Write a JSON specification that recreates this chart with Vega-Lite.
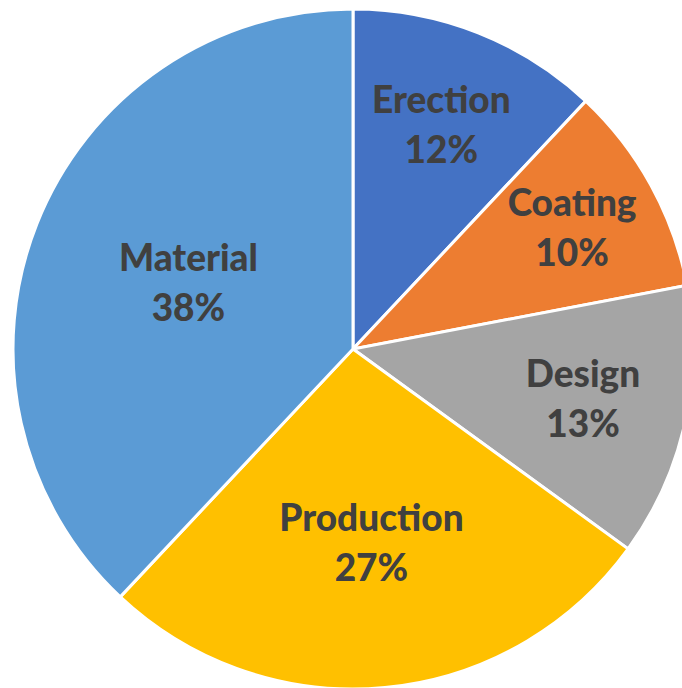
{
  "$schema": "https://vega.github.io/schema/vega-lite/v6.json",
  "width": 706,
  "height": 698,
  "autosize": {"type": "none"},
  "padding": 0,
  "background": "white",
  "view": {"stroke": null},
  "data": {
    "values": [
      {"category": "Erection", "share": 0.12, "seq": 1},
      {"category": "Coating", "share": 0.10, "seq": 2},
      {"category": "Design", "share": 0.13, "seq": 3},
      {"category": "Production", "share": 0.27, "seq": 4},
      {"category": "Material", "share": 0.38, "seq": 5}
    ]
  },
  "encoding": {
    "theta": {"field": "share", "type": "quantitative", "stack": true},
    "order": {"field": "seq", "type": "quantitative"}
  },
  "resolve": {"scale": {"radius": "independent"}},
  "layer": [
    {
      "mark": {"type": "arc", "outerRadius": 340, "stroke": "white", "strokeWidth": 3},
      "encoding": {
        "color": {
          "field": "category",
          "type": "nominal",
          "scale": {
            "domain": ["Erection", "Coating", "Design", "Production", "Material"],
            "range": ["#4472C4", "#ED7D31", "#A5A5A5", "#FFC000", "#5B9BD5"]
          },
          "legend": null
        }
      }
    },
    {
      "mark": {"type": "text", "font": "Lato", "fontWeight": 900, "fontSize": 37, "fill": "#404040", "baseline": "middle", "align": "center", "dy": -24},
      "encoding": {
        "text": {"field": "category", "type": "nominal"},
        "radius": {"field": "share", "type": "quantitative", "scale": {"type": "log", "domain": [0.10, 0.38], "range": [250, 177]}}
      }
    },
    {
      "mark": {"type": "text", "font": "Lato", "fontWeight": 900, "fontSize": 37, "fill": "#404040", "baseline": "middle", "align": "center", "dy": 26},
      "encoding": {
        "text": {"field": "share", "type": "quantitative", "format": ".0%"},
        "radius": {"field": "share", "type": "quantitative", "scale": {"type": "log", "domain": [0.10, 0.38], "range": [250, 177]}}
      }
    }
  ]
}
